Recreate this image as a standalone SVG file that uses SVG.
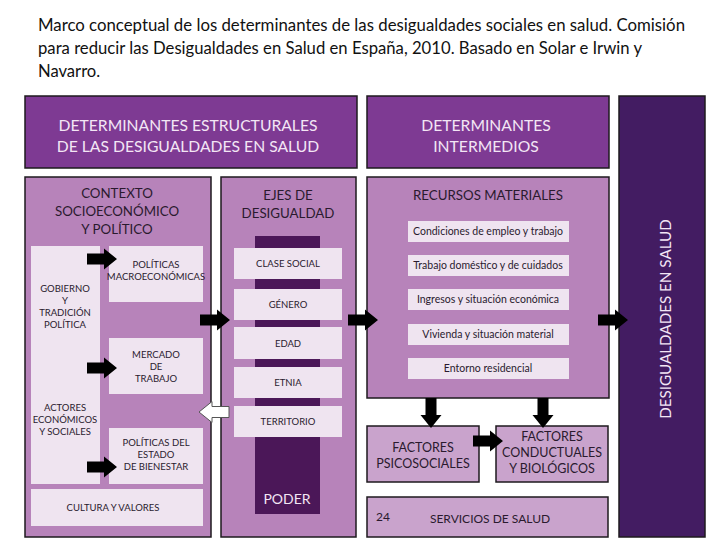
<svg xmlns="http://www.w3.org/2000/svg" width="720" height="540" viewBox="0 0 720 540">
<style>
.title{font-family:Lato,"Liberation Sans",sans-serif;font-size:16.6px;fill:#111}
.hdr{font-family:Lato,"Open Sans",sans-serif;font-size:15.7px;fill:#f3e6f5;text-anchor:middle}
.sub{font-family:Lato,"Open Sans",sans-serif;font-size:13.3px;fill:#2a1a2e;text-anchor:middle}
.sm{font-family:Lato,"Open Sans",sans-serif;font-size:9.5px;fill:#2a1a2e;text-anchor:middle}
.it{font-family:Lato,"Open Sans",sans-serif;font-size:10.5px;fill:#2a1a2e;text-anchor:middle}
.fac{font-family:Lato,"Open Sans",sans-serif;font-size:12.5px;fill:#2a1a2e;text-anchor:middle}
.big{stroke:#1e1a1e;stroke-width:1.5}
.dark{fill:#7e3a93}
.med{fill:#b783ba}
.lite{fill:#c9a3cc}
.pale{fill:#efe4f0}
.arr{fill:#000}
</style>
<defs>
<path id="ar" d="M0,-5.5 H17 V-10.5 L30,0 L17,10.5 V5.5 H0 Z"/>
</defs>
<g id="title">
<text class="title" x="38" y="31" textLength="647" lengthAdjust="spacingAndGlyphs">Marco conceptual de los determinantes de las desigualdades sociales en salud. Comisión</text>
<text class="title" x="38" y="54" textLength="604" lengthAdjust="spacingAndGlyphs">para reducir las Desigualdades en Salud en España, 2010. Basado en Solar e Irwin y</text>
<text class="title" x="38" y="77">Navarro.</text>
</g>
<g id="hdr-estructurales">
<rect class="big dark" x="25" y="96" width="332" height="72"/>
<text class="hdr" x="188" y="131">DETERMINANTES ESTRUCTURALES</text>
<text class="hdr" x="188" y="152">DE LAS DESIGUALDADES EN SALUD</text>
</g>
<g id="hdr-intermedios">
<rect class="big dark" x="367" y="96" width="242" height="72"/>
<text class="hdr" x="486" y="131">DETERMINANTES</text>
<text class="hdr" x="486" y="152">INTERMEDIOS</text>
</g>
<g id="desigualdades">
<rect class="big" fill="#431c62" x="619" y="96" width="86" height="441"/>
<text class="hdr" transform="translate(671,319) rotate(-90)" style="font-size:15.2px">DESIGUALDADES EN SALUD</text>
</g>
<g id="contexto">
<rect class="big med" x="25" y="177" width="186" height="360"/>
<text class="sub" x="117" y="198">CONTEXTO</text>
<text class="sub" x="117" y="216">SOCIOECONÓMICO</text>
<text class="sub" x="117" y="234">Y POLÍTICO</text>
</g>
<g id="gobierno-actores">
<rect class="pale" x="31" y="246" width="69" height="238"/>
<text class="sm" x="65" y="292">GOBIERNO</text>
<text class="sm" x="65" y="304">Y</text>
<text class="sm" x="65" y="316">TRADICIÓN</text>
<text class="sm" x="65" y="328">POLÍTICA</text>
<text class="sm" x="65" y="411">ACTORES</text>
<text class="sm" x="65" y="423">ECONÓMICOS</text>
<text class="sm" x="65" y="435">Y SOCIALES</text>
</g>
<g id="macro">
<rect class="pale" x="109" y="246" width="94" height="56"/>
<text class="sm" x="156" y="268">POLÍTICAS</text>
<text class="sm" x="156" y="280">MACROECONÓMICAS</text>
</g>
<g id="mercado">
<rect class="pale" x="109" y="338" width="94" height="56"/>
<text class="sm" x="156" y="358">MERCADO</text>
<text class="sm" x="156" y="370">DE</text>
<text class="sm" x="156" y="382">TRABAJO</text>
</g>
<g id="bienestar">
<rect class="pale" x="109" y="428" width="94" height="56"/>
<text class="sm" x="156" y="446">POLÍTICAS DEL</text>
<text class="sm" x="156" y="458">ESTADO</text>
<text class="sm" x="156" y="470">DE BIENESTAR</text>
</g>
<g id="cultura">
<rect class="pale" x="31" y="489" width="172" height="37"/>
<text class="sm" x="113" y="511">CULTURA Y VALORES</text>
</g>
<g id="ejes">
<rect class="big med" x="221" y="177" width="135" height="360"/>
<text class="sub" x="288" y="200">EJES DE</text>
<text class="sub" x="288" y="218">DESIGUALDAD</text>
<rect fill="#4b1758" x="255" y="236" width="65" height="278"/>
<text class="hdr" x="287" y="504" style="font-size:14px">PODER</text>
</g>
<g id="clase"><rect class="pale" x="234" y="248" width="108" height="31"/><text class="sm" x="288" y="267">CLASE SOCIAL</text></g>
<g id="genero"><rect class="pale" x="234" y="289" width="108" height="31"/><text class="sm" x="288" y="308">GÉNERO</text></g>
<g id="edad"><rect class="pale" x="234" y="327" width="108" height="32"/><text class="sm" x="288" y="347">EDAD</text></g>
<g id="etnia"><rect class="pale" x="234" y="367" width="108" height="31"/><text class="sm" x="288" y="386">ETNIA</text></g>
<g id="territorio"><rect class="pale" x="234" y="406" width="108" height="31"/><text class="sm" x="288" y="425">TERRITORIO</text></g>
<g id="recursos">
<rect class="big med" x="367" y="177" width="242" height="221"/>
<text class="sub" x="488" y="200">RECURSOS MATERIALES</text>
</g>
<g id="empleo"><rect class="pale" x="408" y="221" width="161" height="21"/><text class="it" x="488" y="235">Condiciones de empleo y trabajo</text></g>
<g id="domestico"><rect class="pale" x="408" y="255" width="161" height="21"/><text class="it" x="488" y="269">Trabajo doméstico y de cuidados</text></g>
<g id="ingresos"><rect class="pale" x="408" y="289" width="161" height="21"/><text class="it" x="488" y="303">Ingresos y situación económica</text></g>
<g id="vivienda"><rect class="pale" x="408" y="324" width="161" height="21"/><text class="it" x="488" y="338">Vivienda y situación material</text></g>
<g id="entorno"><rect class="pale" x="408" y="358" width="161" height="21"/><text class="it" x="488" y="372">Entorno residencial</text></g>
<g id="psicosociales">
<rect class="big lite" x="367" y="426" width="112" height="56"/>
<text class="fac" x="423" y="452">FACTORES</text>
<text class="fac" x="423" y="468">PSICOSOCIALES</text>
</g>
<g id="conductuales">
<rect class="big lite" x="496" y="426" width="112" height="56"/>
<text class="fac" x="552" y="441">FACTORES</text>
<text class="fac" x="552" y="457">CONDUCTUALES</text>
<text class="fac" x="552" y="473">Y BIOLÓGICOS</text>
</g>
<g id="servicios">
<rect class="big lite" x="367" y="497" width="241" height="40"/>
<text class="fac" x="383" y="521" style="font-size:12px">24</text>
<text class="fac" x="490" y="523" style="font-size:12px">SERVICIOS DE SALUD</text>
</g>
<g id="connectors">
<use href="#ar" class="arr" transform="translate(87,259)"/>
<use href="#ar" class="arr" transform="translate(87,368)"/>
<use href="#ar" class="arr" transform="translate(87,467)"/>
<use href="#ar" class="arr" transform="translate(200,320)"/>
<use href="#ar" class="arr" transform="translate(348,320)"/>
<use href="#ar" class="arr" transform="translate(598,320)"/>
<use href="#ar" class="arr" transform="translate(431,398) rotate(90)"/>
<use href="#ar" class="arr" transform="translate(543,398) rotate(90)"/>
<use href="#ar" class="arr" transform="translate(473,441)"/>
<use href="#ar" fill="#fff" stroke="#555" stroke-width="1" transform="translate(229,412) rotate(180)"/>
</g>
</svg>
